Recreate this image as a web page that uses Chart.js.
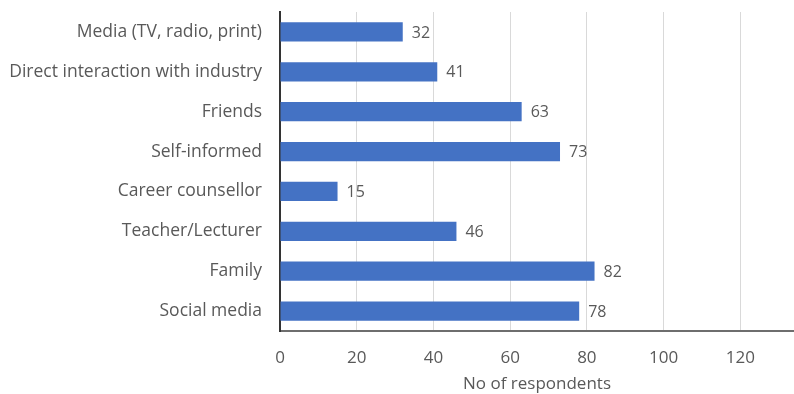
<!DOCTYPE html>
<html>
<head>
<meta charset="utf-8">
<script src="https://cdn.jsdelivr.net/npm/chart.js@4/dist/chart.umd.min.js"></script>
<style>
    html, body { margin: 0; padding: 0; background: #ffffff; }
    #wrap { width: 794px; height: 394px; position: relative; }
</style>
</head>
<body>
<div id="wrap"><canvas id="sourcesChart"></canvas></div>
<script>
const categories = [
    "Media (TV, radio, print)",
    "Direct interaction with industry",
    "Friends",
    "Self-informed",
    "Career counsellor",
    "Teacher/Lecturer",
    "Family",
    "Social media"
];
const respondents = [32, 41, 63, 73, 15, 46, 82, 78];
const xTicks = [0, 20, 40, 60, 80, 100, 120];
const xTitle = "No of respondents";

const TEXT = "#595959";
const FONT = "'Open Sans', 'Noto Sans', sans-serif";

// writes the count just past the end of each bar
const valueLabels = {
    id: "valueLabels",
    afterDatasetsDraw(chart) {
        const ctx = chart.ctx;
        const meta = chart.getDatasetMeta(0);
        ctx.save();
        ctx.fillStyle = TEXT;
        ctx.font = "16px " + FONT;
        ctx.textAlign = "left";
        ctx.textBaseline = "middle";
        meta.data.forEach((bar, i) => {
            ctx.fillText(String(respondents[i]), bar.x + 9, bar.y + 1);
        });
        ctx.restore();
    }
};

new Chart(document.getElementById("sourcesChart"), {
    type: "bar",
    data: {
        labels: categories,
        datasets: [{
            data: respondents,
            backgroundColor: "#4472C4",
            borderWidth: 0,
            barPercentage: 0.48,
            categoryPercentage: 1
        }]
    },
    options: {
        indexAxis: "y",
        responsive: true,
        maintainAspectRatio: false,
        animation: false,
        layout: { padding: { top: 12, right: 0, bottom: 0, left: 0 } },
        plugins: {
            legend: { display: false },
            tooltip: { enabled: false }
        },
        scales: {
            x: {
                min: 0,
                max: 134,
                afterBuildTicks: s => { s.ticks = xTicks.map(v => ({ value: v })); },
                afterFit: s => { s.height = 63; s.paddingRight = 0; },
                grid: { color: "#d9d9d9", lineWidth: 1, drawTicks: false },
                border: { color: "#6e6e6e", width: 2 },
                ticks: { color: TEXT, font: { family: FONT, size: 17 }, padding: 17 },
                title: {
                    display: true,
                    text: xTitle,
                    color: TEXT,
                    font: { family: FONT, size: 17 },
                    padding: { top: 1, bottom: 0 }
                }
            },
            y: {
                afterFit: s => { s.width = 280; s.paddingTop = 0; s.paddingBottom = 0; },
                grid: { display: false, drawTicks: false },
                border: { color: "#333333", width: 2 },
                ticks: { color: TEXT, font: { family: FONT, size: 17.5 }, padding: 18 }
            }
        }
    },
    plugins: [valueLabels]
});
</script>
</body>
</html>
